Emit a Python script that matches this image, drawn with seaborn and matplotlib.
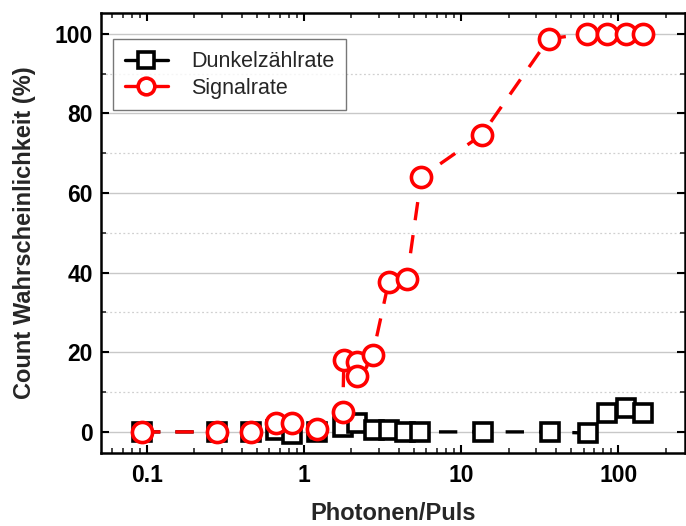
import numpy as np
import pandas as pd
import matplotlib
matplotlib.use("Agg")
import matplotlib.pyplot as plt
import seaborn as sns
from matplotlib.ticker import FixedLocator, NullFormatter, LogLocator, FuncFormatter

sns.set_theme(style="white")
plt.rcParams['font.family'] = ['Liberation Sans', 'DejaVu Sans']

# Data
dark_x = [0.093, 0.28, 0.46, 0.66, 0.84, 1.21, 1.76, 2.17, 2.77, 3.45, 4.4, 5.5, 13.8, 36.6, 64, 84, 112, 143]
dark_y = [0.0, 0.0, 0.0, 0.5, -0.5, 0.0, 1.3, 2.2, 0.5, 0.5, 0.0, 0.0, 0.0, 0.0, -0.3, 4.7, 5.9, 4.7]

sig_x = [0.093, 0.28, 0.46, 0.66, 0.84, 1.21, 1.76, 1.79, 2.17, 2.17, 2.73, 3.45, 4.51, 5.56, 13.5, 36, 63, 85, 112, 143]
sig_y = [0.0, 0.0, 0.0, 2.3, 2.3, 0.7, 4.9, 18.0, 17.6, 14.0, 19.3, 37.7, 38.5, 64.0, 74.6, 98.7, 100, 100, 100, 100]

series_names = ["Dunkelzählrate", "Signalrate"]
x_ticks = [0.1, 1, 10, 100]
x_ticklabels = ["0.1", "1", "10", "100"]
y_ticks = [0, 20, 40, 60, 80, 100]

fig = plt.figure(figsize=(6.86, 5.26), dpi=100)
ax = fig.add_axes([101/686, 1-453/526, (685-101)/686, (453-13)/526])

df_dark = pd.DataFrame({"x": dark_x, "y": dark_y})
df_sig = pd.DataFrame({"x": sig_x, "y": sig_y})

sns.lineplot(data=df_dark, x="x", y="y", ax=ax, sort=False, estimator=None,
             color="black", lw=2.4, marker="s", markersize=13, markeredgewidth=2.6,
             markerfacecolor="white", markeredgecolor="black", label=series_names[0],
             dashes=False, zorder=3)
sns.lineplot(data=df_sig, x="x", y="y", ax=ax, sort=False, estimator=None,
             color="red", lw=2.4, marker="o", markersize=14.5, markeredgewidth=2.6,
             markerfacecolor="white", markeredgecolor="red", label=series_names[1],
             dashes=False, zorder=4)
for ln in ax.lines[:2]:
    ln.set_linestyle((0, (5.5, 4.5)))

ax.set_xscale("log")
ax.set_xlim(0.051, 265)
ax.set_ylim(-5.3, 105.2)

ax.xaxis.set_major_locator(FixedLocator(x_ticks))
ax.xaxis.set_major_formatter(FuncFormatter(lambda v, p: x_ticklabels[x_ticks.index(v)] if v in x_ticks else ""))
ax.xaxis.set_minor_locator(LogLocator(base=10, subs=np.arange(2, 10), numticks=20))
ax.xaxis.set_minor_formatter(NullFormatter())
ax.yaxis.set_major_locator(FixedLocator(y_ticks))
ax.yaxis.set_minor_locator(FixedLocator([10, 30, 50, 70, 90]))

ax.grid(True, which="major", axis="y", color="#c8c8c8", lw=1.0, ls="-", zorder=0)
ax.grid(True, which="minor", axis="y", color="#d0d0d0", lw=0.9, ls=(0, (1.5, 2)), zorder=0)
ax.grid(False, axis="x", which="both")
ax.set_axisbelow(True)

for s in ax.spines.values():
    s.set_color("black")
    s.set_linewidth(1.8)

ax.tick_params(which="major", direction="in", length=6, width=1.5, top=True, right=True,
               bottom=True, left=True, labelsize=16.5, colors="black")
ax.tick_params(axis="x", which="major", pad=8)
ax.tick_params(axis="y", which="major", pad=6)
ax.tick_params(which="minor", direction="in", length=3.5, width=1.2, top=True, right=True,
               bottom=True, left=True)
for lab in ax.get_xticklabels() + ax.get_yticklabels():
    lab.set_fontweight("bold")

ax.set_xlabel("Photonen/Puls", fontsize=17, fontweight="bold", labelpad=11)
ax.set_ylabel("Count Wahrscheinlichkeit (%)", fontsize=17, fontweight="bold", labelpad=13)

leg = ax.legend(loc="upper left", bbox_to_anchor=(0.02, 0.94), fontsize=15.5, frameon=True,
                fancybox=False, edgecolor="#555555", handlelength=2.0, borderpad=0.55,
                labelspacing=0.25, handletextpad=1.1, borderaxespad=0)
leg.get_frame().set_linewidth(1.0)
for h in leg.get_lines():
    h.set_linestyle("-")
    h.set_markersize(12)

fig.savefig("out.png", dpi=100)
